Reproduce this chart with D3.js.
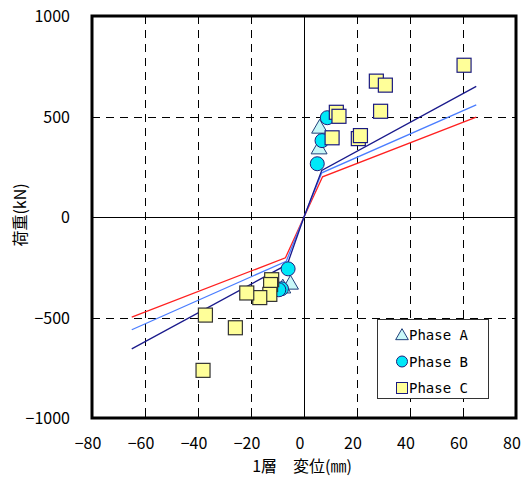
<!DOCTYPE html>
<html><head><meta charset="utf-8">
<script src="https://cdn.jsdelivr.net/npm/d3@7"></script>
<style>body{margin:0;background:#fff}svg{display:block}</style>
</head><body>
<svg id="c" width="526" height="478"></svg>
<script>
// ---- data ----
const xTicks = [-80,-60,-40,-20,0,20,40,60,80];
const yTicks = [-1000,-500,0,500,1000];
const xGrid = [-60,-40,-20,20,40,60];
const yGrid = [-500,500];
const phaseA = [[5.9,440],[5.7,337],[-5.1,-336],[-8,-355]];
const phaseB = [[5,265],[6.8,380],[8.8,494],[-6,-258],[-8.5,-357],[-9.5,-362]];
const phaseC = [[12.2,521],[13.2,501],[10.6,394],[20.5,390],[21.3,405],[27.3,676],[30.7,656],[28.9,526],[60.4,755],
  [-12.2,-312],[-12.6,-336],[-12.9,-385],[-16.7,-401],[-21.6,-378],[-37.2,-488],[-25.9,-551],[-38.1,-763]];
const lineRed = [[-65,-498],[-7,-203],[0,0],[7,200],[65,497]];
const lineBlue = [[-65,-561],[-6.7,-220],[0,0],[6.7,220],[65,558]];
const lineNavy = [[-65,-656],[-6.3,-236],[0,0],[6.7,232],[65,650]];
const legendLabels = ["Phase A","Phase B","Phase C"];
const xTitle = "1層　変位(㎜)";
const yTitle = "荷重(kN)";

// ---- chart ----
const svg = d3.select("#c");
const L=92,R=516,T=16,B=418;
const x = d3.scaleLinear().domain([-80,80]).range([L,R]);
const y = d3.scaleLinear().domain([-1000,1000]).range([B,T]);
const font = "'Noto Sans CJK JP', 'Noto Sans', sans-serif";

// grid
svg.append("g").selectAll("line").data(xGrid).join("line")
  .attr("x1",d=>Math.round(x(d))+0.5).attr("x2",d=>Math.round(x(d))+0.5)
  .attr("y1",T).attr("y2",B).attr("stroke","#000").attr("stroke-width",1)
  .attr("stroke-dasharray","8,6");
svg.append("g").selectAll("line").data(yGrid).join("line")
  .attr("y1",d=>Math.round(y(d))+0.5).attr("y2",d=>Math.round(y(d))+0.5)
  .attr("x1",L).attr("x2",R).attr("stroke","#000").attr("stroke-width",1)
  .attr("stroke-dasharray","8,6");
// zero lines
svg.append("line").attr("x1",Math.round(x(0))+0.5).attr("x2",Math.round(x(0))+0.5)
  .attr("y1",T).attr("y2",B).attr("stroke","#000");
svg.append("line").attr("y1",Math.round(y(0))+0.5).attr("y2",Math.round(y(0))+0.5)
  .attr("x1",L).attr("x2",R).attr("stroke","#000");

// model lines
const lg = d3.line().x(d=>x(d[0])).y(d=>y(d[1]));
[[lineRed,"#ff2020"],[lineBlue,"#4a7dff"],[lineNavy,"#1a1a8c"]].forEach(([d,c])=>{
  svg.append("path").attr("d",lg(d)).attr("fill","none").attr("stroke",c).attr("stroke-width",1.3);
});

// markers
const sym = (t,s)=>d3.symbol().type(t).size(s)();
svg.append("g").selectAll("path").data(phaseA).join("path")
  .attr("transform",d=>`translate(${x(d[0])},${y(d[1])})`)
  .attr("d",sym(d3.symbolTriangle,110)).attr("fill","#c8f8f8").attr("stroke","#20407a").attr("stroke-width",1);
svg.append("g").selectAll("circle").data(phaseB).join("circle")
  .attr("cx",d=>x(d[0])).attr("cy",d=>y(d[1])).attr("r",7)
  .attr("fill","#00e8f8").attr("stroke","#20207a").attr("stroke-width",1);
svg.append("g").selectAll("rect").data(phaseC).join("rect")
  .attr("x",d=>x(d[0])-7).attr("y",d=>y(d[1])-7).attr("width",14).attr("height",14)
  .attr("fill","#ffff99").attr("stroke",d=>d[1]>0?"#1a1a80":"#333").attr("stroke-width",1.2);

// ticks
svg.append("g").selectAll("line").data(xTicks.slice(1,-1)).join("line")
  .attr("x1",d=>Math.round(x(d))+0.5).attr("x2",d=>Math.round(x(d))+0.5)
  .attr("y1",B).attr("y2",B-5).attr("stroke","#000");
svg.append("g").selectAll("line").data(yTicks.slice(1,-1)).join("line")
  .attr("y1",d=>Math.round(y(d))+0.5).attr("y2",d=>Math.round(y(d))+0.5)
  .attr("x1",L).attr("x2",L+5).attr("stroke","#000");

// frame
svg.append("rect").attr("x",L).attr("y",T).attr("width",R-L).attr("height",B-T)
  .attr("fill","none").attr("stroke","#000").attr("stroke-width",3);

// tick labels
const fmt = d=> d<0 ? "−"+Math.abs(d) : String(d);
svg.append("g").selectAll("text").data(xTicks).join("text")
  .attr("x",d=>x(d)-4).attr("y",449).attr("text-anchor","middle")
  .attr("font-family",font).attr("font-size",16).text(fmt);
svg.append("g").selectAll("text").data(yTicks).join("text")
  .attr("x",70).attr("y",d=>y(d)+6).attr("text-anchor","end")
  .attr("font-family",font).attr("font-size",16).text(fmt);

// titles
svg.append("text").attr("x",302).attr("y",472).attr("text-anchor","middle")
  .attr("font-family",font).attr("font-size",16).text(xTitle);
svg.append("text").attr("transform","translate(26,215) rotate(-90)").attr("text-anchor","middle")
  .attr("font-family",font).attr("font-size",16).text(yTitle);

// legend
const lgX=377, lgY=319;
svg.append("rect").attr("x",lgX+0.5).attr("y",lgY+0.5).attr("width",111).attr("height",79)
  .attr("fill","#fff").attr("stroke","#333").attr("stroke-width",1);
const rows=[335,361.5,388];
const legFont="'DejaVu Sans Mono', monospace";
legendLabels.forEach((t,i)=>{
  const cy=rows[i], cx=402;
  if(i===0) svg.append("path").attr("transform",`translate(${cx},${cy+1})`).attr("d",sym(d3.symbolTriangle,70))
     .attr("fill","#c8f8f8").attr("stroke","#20407a");
  if(i===1) svg.append("circle").attr("cx",cx).attr("cy",cy).attr("r",5.5).attr("fill","#00e8f8").attr("stroke","#20207a");
  if(i===2) svg.append("rect").attr("x",cx-5.5).attr("y",cy-5.5).attr("width",11).attr("height",11).attr("fill","#ffff99").attr("stroke","#1a1a80");
  svg.append("text").attr("x",409).attr("y",cy+5).attr("font-family",legFont).attr("font-size",14).text(t);
});
</script>
</body></html>
